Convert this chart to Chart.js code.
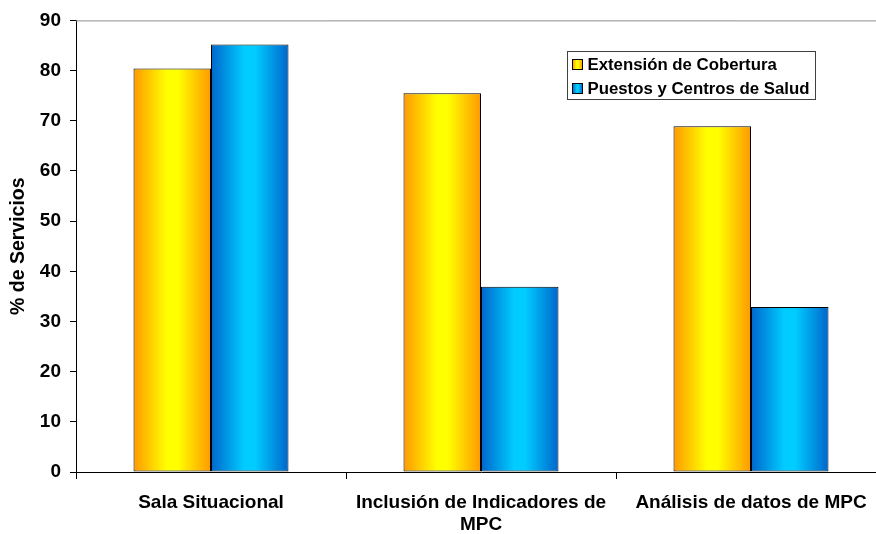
<!DOCTYPE html>
<html lang="es">
<head>
<meta charset="utf-8">
<title>% de Servicios</title>
<script src="https://cdn.jsdelivr.net/npm/chart.js@4/dist/chart.umd.min.js"></script>
<style>
  html, body { margin: 0; padding: 0; background: #fff; overflow: hidden; }
  #wrap { position: absolute; left: 0; top: 0; width: 888px; height: 534px; }
</style>
</head>
<body>
<div id="wrap"><canvas id="chart"></canvas></div>
<script>
// Categories and series
const categories = ['Sala Situacional', ['Inclusión de Indicadores de', 'MPC'], 'Análisis de datos de MPC'];
const extensionCobertura = [80.4, 75.5, 68.9];
const puestosCentros = [85.2, 36.9, 32.9];
const seriesNames = ['Extensión de Cobertura', 'Puestos y Centros de Salud'];
const yTicks = [0, 10, 20, 30, 40, 50, 60, 70, 80, 90];

const FONT = '"Liberation Sans", Arial, sans-serif';
const CAT_PCT = 0.574;

// Horizontal gradient stops for each series (edge, centre, edge)
const gradientStops = [
  [[0, '#FF9900'], [0.43, '#FFFF00'], [0.57, '#FFFF00'], [1, '#FF9900']],
  [[0, '#0066CC'], [0.43, '#00CCFF'], [0.57, '#00CCFF'], [1, '#0066CC']]
];

function makeGradient(ctx, x0, x1, stops) {
  const g = ctx.createLinearGradient(x0, 0, x1, 0);
  stops.forEach(s => g.addColorStop(s[0], s[1]));
  return g;
}

// Fill each bar with its own left-to-right gradient, computed from the x scale
function barFill(context) {
  const chart = context.chart;
  const xs = chart.scales.x;
  const di = context.datasetIndex;
  if (!xs || !chart.chartArea || context.dataIndex === undefined) return gradientStops[di][1][1];
  const centre = xs.getPixelForValue(context.dataIndex);
  const catW = (xs.right - xs.left) / categories.length;
  const w = catW * CAT_PCT / 2;
  const x0 = di === 0 ? centre - w : centre;
  return makeGradient(chart.ctx, x0, x0 + w, gradientStops[di]);
}

// Gray frame line along the top of the plot area
const topLine = {
  id: 'topLine',
  beforeDatasetsDraw(chart) {
    const { ctx, chartArea } = chart;
    ctx.save();
    ctx.strokeStyle = '#8c8c8c';
    ctx.lineWidth = 1;
    ctx.beginPath();
    ctx.moveTo(chartArea.left, chartArea.top + 0.5);
    ctx.lineTo(chartArea.right, chartArea.top + 0.5);
    ctx.stroke();
    ctx.restore();
  }
};

// Boxed legend inside the plot area
const boxLegend = {
  id: 'boxLegend',
  afterDraw(chart) {
    const { ctx, chartArea } = chart;
    const bx = Math.round(chartArea.left + 491) + 0.5;
    const by = Math.round(chartArea.top + 31) + 0.5;
    const bw = 248, bh = 48;
    ctx.save();
    ctx.fillStyle = '#ffffff';
    ctx.fillRect(bx, by, bw, bh);
    ctx.strokeStyle = '#404040';
    ctx.lineWidth = 1;
    ctx.strokeRect(bx, by, bw, bh);
    ctx.font = 'bold 16.8px ' + FONT;
    ctx.textBaseline = 'middle';
    ctx.textAlign = 'left';
    chart.data.datasets.forEach((ds, i) => {
      const cy = by + 13 + i * 24;
      const mx = bx + 5, my = cy - 5;
      ctx.fillStyle = makeGradient(ctx, mx, mx + 10, gradientStops[i]);
      ctx.fillRect(mx, my, 10, 10);
      ctx.strokeStyle = '#000';
      ctx.strokeRect(mx, my, 10, 10);
      ctx.fillStyle = '#000';
      ctx.fillText(ds.label, bx + 20, cy + 1);
    });
    ctx.restore();
  }
};

new Chart(document.getElementById('chart'), {
  type: 'bar',
  data: {
    labels: categories,
    datasets: [
      { label: seriesNames[0], data: extensionCobertura, backgroundColor: barFill,
        borderColor: '#000', borderWidth: 1, borderSkipped: false },
      { label: seriesNames[1], data: puestosCentros, backgroundColor: barFill,
        borderColor: '#000', borderWidth: 1, borderSkipped: false }
    ]
  },
  options: {
    responsive: true,
    maintainAspectRatio: false,
    animation: false,
    events: [],
    layout: { padding: { top: 20, right: 2, left: 0, bottom: 0 } },
    datasets: { bar: { barPercentage: 1, categoryPercentage: CAT_PCT } },
    plugins: { legend: { display: false }, tooltip: { enabled: false } },
    scales: {
      x: {
        grid: { drawOnChartArea: false, drawTicks: true, tickLength: 7, tickColor: '#000', offset: true },
        border: { display: true, color: '#000', width: 1 },
        ticks: { color: '#000', font: { family: FONT, size: 19, weight: 'bold' }, padding: 12, maxRotation: 0, autoSkip: false },
        afterFit(scale) { scale.height = 62; }
      },
      y: {
        min: 0, max: 90,
        afterBuildTicks(scale) { scale.ticks = yTicks.map(v => ({ value: v })); },
        grid: { drawOnChartArea: false, drawTicks: true, tickLength: 6, tickColor: '#000' },
        border: { display: true, color: '#000', width: 1 },
        ticks: { color: '#000', font: { family: FONT, size: 19, weight: 'bold' }, padding: 9 },
        title: { display: true, text: '% de Servicios', color: '#000',
                 font: { family: FONT, size: 19.5, weight: 'bold' }, padding: { top: 7, bottom: 0 } },
        afterFit(scale) { scale.width = 76; }
      }
    }
  },
  plugins: [topLine, boxLegend]
});
</script>
</body>
</html>
